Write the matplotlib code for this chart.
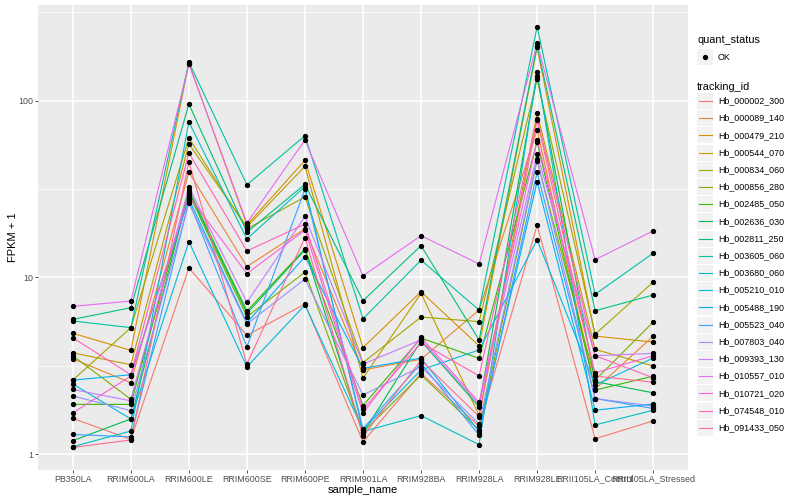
import numpy as np
import matplotlib
matplotlib.use('Agg')
import matplotlib.pyplot as plt
from matplotlib.lines import Line2D
from matplotlib.patches import Rectangle
from matplotlib.ticker import FixedLocator, NullFormatter

plt.rcParams['font.family'] = ['Liberation Sans', 'DejaVu Sans']

samples = ['PB350LA', 'RRIM600LA', 'RRIM600LE', 'RRIM600SE', 'RRIM600PE',
           'RRIM901LA', 'RRIM928BA', 'RRIM928LA', 'RRIM928LE',
           'RRII105LA_Control', 'RRII105LA_Stressed']

tracking_ids = ['Hb_000002_300', 'Hb_000089_140', 'Hb_000479_210', 'Hb_000544_070',
                'Hb_000834_060', 'Hb_000856_280', 'Hb_002485_050', 'Hb_002636_030',
                'Hb_002811_250', 'Hb_003605_060', 'Hb_003680_060', 'Hb_005210_010',
                'Hb_005488_190', 'Hb_005523_040', 'Hb_007803_040', 'Hb_009393_130',
                'Hb_010557_010', 'Hb_010721_020', 'Hb_074548_010', 'Hb_091433_050']

# ggplot default hue palette for 20 levels
colors = ['#F8766D', '#EA8331', '#D89000', '#C09B00', '#A3A500', '#7CAE00',
          '#39B600', '#00BB4E', '#00BF7D', '#00C1A3', '#00BFC4', '#00BAE0',
          '#00B0F6', '#35A2FF', '#9590FF', '#C77CFF', '#E76BF3', '#FA62DB',
          '#FF62BC', '#FF6C91']

# FPKM + 1, one list per gene, in sample order
hb_000002_300 = [1.59, 1.21, 11.3, 4.70, 7.06, 1.17, 2.86, 1.44, 19.7, 1.22, 1.54]
hb_000089_140 = [3.46, 2.53, 39.4, 11.5, 18.8, 2.99, 3.44, 6.53, 68.2, 2.33, 4.64]
hb_000479_210 = [4.82, 3.86, 163, 19.8, 45.9, 4.00, 8.29, 4.09, 200, 4.65, 4.30]
hb_000544_070 = [3.74, 3.20, 56.8, 19.3, 42.5, 2.69, 8.12, 1.66, 85.0, 3.91, 3.15]
hb_000834_060 = [2.62, 5.19, 61.4, 18.8, 28.5, 3.29, 5.96, 5.61, 132, 4.76, 9.40]
hb_000856_280 = [3.60, 2.04, 29.6, 5.98, 10.7, 1.33, 2.80, 1.37, 45.7, 2.62, 5.58]
hb_002485_050 = [1.91, 1.91, 31.2, 6.45, 14.5, 1.88, 4.53, 3.48, 58.5, 2.30, 2.76]
hb_002636_030 = [1.19, 1.58, 30.4, 6.25, 14.3, 1.31, 4.36, 1.85, 138, 2.57, 2.22]
hb_002811_250 = [5.78, 6.73, 95.6, 18.0, 33.6, 7.37, 15.1, 4.42, 204, 6.47, 7.94]
hb_003605_060 = [5.66, 5.19, 165, 33.4, 63.3, 5.83, 12.5, 6.53, 262, 8.01, 13.7]
hb_003680_060 = [1.10, 1.35, 75.6, 16.5, 32.6, 1.34, 1.65, 1.13, 146, 1.46, 1.77]
hb_005210_010 = [2.49, 1.58, 15.9, 3.12, 6.97, 1.37, 2.99, 3.88, 16.3, 2.46, 3.49]
hb_005488_190 = [2.62, 2.81, 27.7, 5.53, 13.1, 3.05, 3.49, 1.34, 34.8, 1.77, 1.92]
hb_005523_040 = [1.29, 1.25, 27.0, 4.05, 31.5, 1.39, 3.26, 1.28, 39.3, 2.06, 1.81]
hb_007803_040 = [2.13, 1.76, 26.3, 5.44, 9.78, 2.16, 3.12, 1.48, 46.5, 2.06, 1.87]
hb_009393_130 = [2.32, 2.00, 32.4, 7.22, 22.1, 3.23, 4.42, 1.91, 49.9, 3.60, 3.71]
hb_010557_010 = [6.85, 7.34, 161, 20.3, 59.8, 10.2, 17.2, 11.9, 211, 12.6, 18.3]
hb_010721_020 = [1.71, 2.76, 28.8, 10.5, 18.5, 1.70, 4.58, 1.96, 59.8, 2.88, 3.60]
hb_074548_010 = [4.55, 2.81, 50.5, 14.1, 20.0, 1.79, 4.26, 2.77, 79.2, 3.60, 2.70]
hb_091433_050 = [1.09, 1.20, 44.9, 3.23, 16.8, 1.26, 3.40, 1.63, 77.6, 2.76, 2.55]

series = [hb_000002_300, hb_000089_140, hb_000479_210, hb_000544_070,
          hb_000834_060, hb_000856_280, hb_002485_050, hb_002636_030,
          hb_002811_250, hb_003605_060, hb_003680_060, hb_005210_010,
          hb_005488_190, hb_005523_040, hb_007803_040, hb_009393_130,
          hb_010557_010, hb_010721_020, hb_074548_010, hb_091433_050]

W, H = 800, 500
fig = plt.figure(figsize=(8, 5), dpi=100)
ax = fig.add_axes([38 / W, 30 / H, 650 / W, 465 / H])
ax.set_facecolor('#EBEBEB')
for sp in ax.spines.values():
    sp.set_visible(False)

x = np.arange(len(samples))
for vals, col in zip(series, colors):
    ax.plot(x, vals, color=col, lw=0.8, zorder=2)
for vals in series:
    ax.plot(x, vals, 'o', color='black', ms=2.8, zorder=3)

ax.set_yscale('log')
ax.set_ylim(0.812, 347.6)
ax.set_xlim(-0.6, len(samples) - 0.4)
ax.set_yticks([1, 10, 100])
ax.set_yticklabels(['1', '10', '100'])
ax.yaxis.set_minor_locator(FixedLocator([10 ** 0.5, 10 ** 1.5, 10 ** 2.5]))
ax.yaxis.set_minor_formatter(NullFormatter())
ax.set_xticks(x)
ax.set_xticklabels(samples)
ax.tick_params(which='minor', length=0)
ax.tick_params(which='major', length=2.5, width=0.6, color='#333333',
               labelsize=6.4, labelcolor='#4D4D4D', pad=0.8)
ax.grid(which='major', color='white', lw=1.1)
ax.grid(which='minor', axis='y', color='white', lw=0.55)
ax.set_axisbelow(True)
ax.set_xlabel('sample_name', fontsize=8, va='center')
ax.xaxis.set_label_coords(0.5, -0.044)
ax.set_ylabel('FPKM + 1', fontsize=8, va='center')
ax.yaxis.set_label_coords(-0.039, 0.5)

# legend, drawn by hand to look like ggplot's
def fy(py):
    return 1 - py / H

key = 16
kx = 697
fig.text(kx / W, fy(40), 'quant_status', fontsize=7.8, va='center')
fig.add_artist(Rectangle((kx / W, fy(57 + key / 2)), key / W, key / H,
                         facecolor='#F2F2F2', edgecolor='none',
                         transform=fig.transFigure))
fig.add_artist(Line2D([(kx + key / 2) / W], [fy(57)], marker='o', ms=2.8,
                      color='black', transform=fig.transFigure))
fig.text(718 / W, fy(57), 'OK', fontsize=6.4, va='center')

fig.text(kx / W, fy(87), 'tracking_id', fontsize=7.8, va='center')
for i, (name, col) in enumerate(zip(tracking_ids, colors)):
    py = 101 + i * 17.2
    fig.add_artist(Rectangle((kx / W, fy(py + key / 2)), key / W, key / H,
                             facecolor='#F2F2F2', edgecolor='none',
                             transform=fig.transFigure))
    fig.add_artist(Line2D([(kx + 1.5) / W, (kx + key - 1.5) / W], [fy(py), fy(py)],
                          color=col, lw=0.8, transform=fig.transFigure))
    fig.text(718 / W, fy(py), name, fontsize=6.4, va='center')

fig.savefig('out.png', dpi=100)
